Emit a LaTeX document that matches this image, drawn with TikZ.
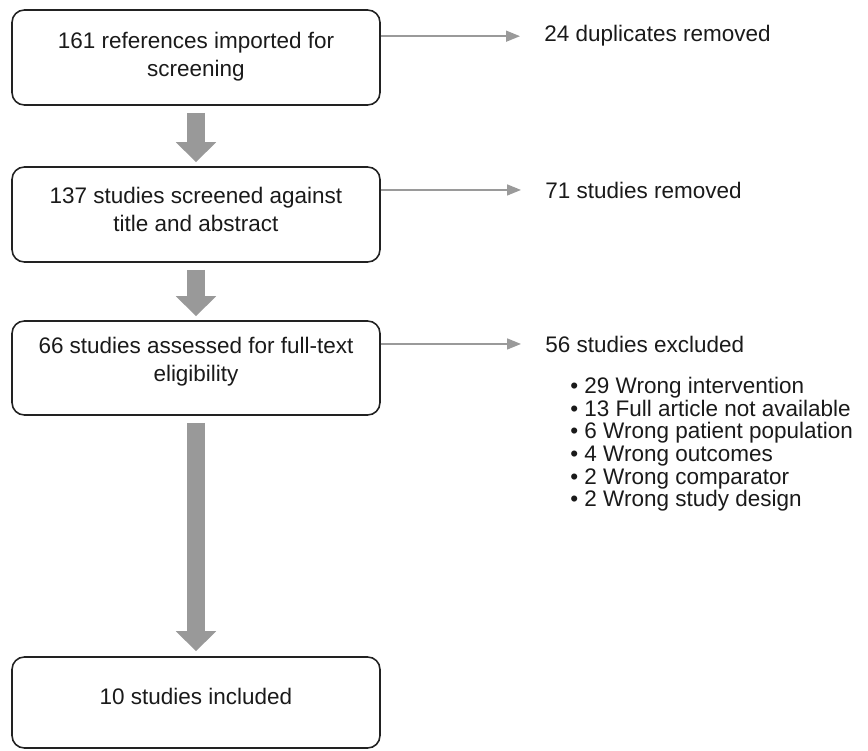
\documentclass[tikz,border=0pt]{standalone}
\usepackage{fontspec}
\setmainfont{Liberation Sans}
\usetikzlibrary{arrows.meta, positioning, calc}
\definecolor{cline}{HTML}{222222}
\definecolor{ctext}{HTML}{1A1A1A}
\definecolor{cgrey}{HTML}{9A9A9A}
\definecolor{cfat}{HTML}{999999}
\tikzset{
  every picture/.style={x=0.02cm, y=-0.02cm},
  every node/.style={font=\fontsize{12.8}{15.9}\selectfont, text=ctext},
  box/.style={draw=cline, line width=0.9pt, rounded corners=7pt, minimum width=7.36cm, minimum height=#1, inner sep=0pt},
  box/.default=1.9cm,
  boxtext/.style={anchor=north, align=center, inner sep=0pt},
  sidenote/.style={anchor=base west, inner sep=0pt},
  arrow/.style={-{Triangle[length=0.28cm, width=0.22cm]}, draw=cgrey, line width=0.85pt},
  fat/.style={-{Triangle[length=0.4cm, width=0.78cm]}, draw=cfat, line width=0.36cm},
}

\begin{document}
\begin{tikzpicture}
  \useasboundingbox (0,0) rectangle (868,750);
  \node[box] (b1) at (196,57.5) {};
  \node[box] (b2) at (196,214.5) {};
  \node[box=1.88cm] (b3) at (196,368) {};
  \node[box=1.82cm] (b4) at (196,702.5) {};
  \node[boxtext] (t1) at (196,32) {161 references imported for\\screening};
  \node[boxtext] (t2) at (196,187) {137 studies screened against\\title and abstract};
  \node[boxtext] (t3) at (196,337) {66 studies assessed for full-text\\eligibility};
  \node[boxtext] (t4) at (196,688) {10 studies included};
  \draw[fat] ($(b1.south)+(0,7)$) -- ($(b2.north)+(0,-4)$);
  \draw[fat] ($(b2.south)+(0,7)$) -- ($(b3.north)+(0,-4)$);
  \draw[fat] ($(b3.south)+(0,7)$) -- ($(b4.north)+(0,-5)$);
  \node[sidenote] (n1) at (544,42) {24 duplicates removed};
  \node[sidenote] (n2) at (545,198) {71 studies removed};
  \node[sidenote] (n3) at (545,352) {56 studies excluded};
  \foreach \i in {1,2,3}
    \draw[arrow] (b\i.east |- n\i.west) -- ($(n\i.west)+(-24,0)$);
  \node[anchor=north west, align=left, inner sep=0pt, font=\fontsize{12.8}{12.9}\selectfont] (excl) at (570,377)
    {\textbullet\ 29 Wrong intervention\\
     \textbullet\ 13 Full article not available\\
     \textbullet\ 6 Wrong patient population\\
     \textbullet\ 4 Wrong outcomes\\
     \textbullet\ 2 Wrong comparator\\
     \textbullet\ 2 Wrong study design};
\end{tikzpicture}
\end{document}
